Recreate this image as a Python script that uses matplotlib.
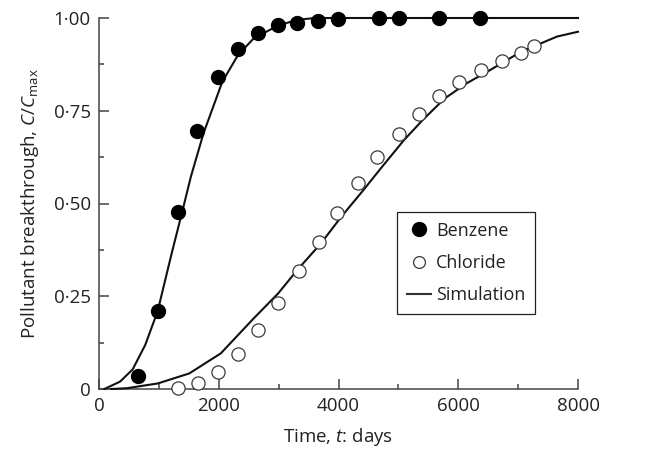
import matplotlib
matplotlib.use("Agg")
import matplotlib.pyplot as plt
from matplotlib.lines import Line2D
from matplotlib.ticker import FixedLocator, MultipleLocator

plt.rcParams['font.family'] = ['Open Sans', 'DejaVu Sans']
plt.rcParams['mathtext.fontset'] = 'custom'
plt.rcParams['mathtext.rm'] = 'Open Sans'
plt.rcParams['mathtext.it'] = 'Open Sans:italic'

# Measured data
benzene_t = [646, 980, 1314, 1642, 1982, 2316, 2661, 2995, 3312, 3663, 3986, 4670, 5016, 5683, 6363]
benzene_c = [0.035, 0.21, 0.476, 0.696, 0.84, 0.916, 0.96, 0.981, 0.987, 0.992, 0.997, 1.0, 1.0, 1.0, 1.0]

chloride_t = [1314, 1659, 1993, 2316, 2661, 2995, 3346, 3679, 3975, 4331,
              4648, 5016, 5344, 5678, 6012, 6375, 6725, 7048, 7270]
chloride_c = [0.002, 0.017, 0.047, 0.094, 0.159, 0.231, 0.319, 0.397, 0.475, 0.554,
              0.626, 0.687, 0.740, 0.790, 0.828, 0.860, 0.884, 0.907, 0.925]

# Simulated curves
sim_benzene_t = [90, 353, 563, 773, 980, 1213, 1387, 1534, 1745, 2059, 2321, 2583, 3006, 3320, 3600, 8000]
sim_benzene_c = [0.0, 0.02, 0.053, 0.119, 0.21, 0.365, 0.476, 0.572, 0.689, 0.828, 0.900, 0.945, 0.981, 0.995, 1.0, 1.0]

sim_chloride_t = [200, 460, 983, 1508, 2034, 2570, 2994, 3318, 3709, 4050, 4415, 4728,
                  5094, 5406, 5773, 6140, 6504, 7048, 7650, 8000]
sim_chloride_c = [0.0, 0.002, 0.015, 0.042, 0.096, 0.188, 0.258, 0.322, 0.393, 0.465, 0.536, 0.599,
                  0.671, 0.725, 0.783, 0.824, 0.857, 0.909, 0.950, 0.963]

x_ticks = [0, 2000, 4000, 6000, 8000]
x_tick_labels = ['0', '2000', '4000', '6000', '8000']
y_ticks = [0, 0.25, 0.5, 0.75, 1.0]
y_tick_labels = ['0', '0·25', '0·50', '0·75', '1·00']

fig = plt.figure(figsize=(6.45, 4.49), dpi=100)
ax = fig.add_axes([99/645, 60/449, 479/645, 371/449])

lw = 1.5
ax.plot(sim_benzene_t, sim_benzene_c, color='#111111', lw=lw, clip_on=False, zorder=3,
        solid_joinstyle='round')
ax.plot(sim_chloride_t, sim_chloride_c, color='#111111', lw=lw, clip_on=False, zorder=3,
        solid_joinstyle='round')
ax.plot(benzene_t, benzene_c, 'o', ms=10, mfc='black', mec='black', clip_on=False, zorder=4)
ax.plot(chloride_t, chloride_c, 'o', ms=9.5, mfc='white', mec='#3a3a3a', mew=0.9, clip_on=False, zorder=4)

ax.set_xlim(0, 8000)
ax.set_ylim(0, 1.0)
ax.xaxis.set_major_locator(FixedLocator(x_ticks))
ax.set_xticklabels(x_tick_labels)
ax.xaxis.set_minor_locator(MultipleLocator(1000))
ax.yaxis.set_major_locator(FixedLocator(y_ticks))
ax.set_yticklabels(y_tick_labels)
ax.yaxis.set_minor_locator(MultipleLocator(0.125))

for s in ['top', 'right']:
    ax.spines[s].set_visible(False)
for s in ['left', 'bottom']:
    ax.spines[s].set_color('#444444')
    ax.spines[s].set_linewidth(1.1)

ax.tick_params(which='major', direction='in', length=7, width=1.1, color='#444444',
               labelsize=13.5, labelcolor='#222222', pad=6)
ax.tick_params(which='minor', direction='in', length=3.5, width=1.1, color='#444444')

ax.set_xlabel('Time, $t$: days', fontsize=13.5, color='#222222', labelpad=8)
ax.set_ylabel('Pollutant breakthrough, $C$/$C_{\\mathrm{max}}$', fontsize=13.5,
              color='#222222', labelpad=9)

handles = [
    Line2D([], [], ls='none', marker='o', ms=10, mfc='black', mec='black'),
    Line2D([], [], ls='none', marker='o', ms=8.5, mfc='white', mec='#3a3a3a', mew=0.9),
    Line2D([], [], color='#333333', lw=1.5),
]
leg = ax.legend(handles, ['Benzene', 'Chloride', 'Simulation'], loc='upper left',
                bbox_to_anchor=(0.622, 0.478), borderaxespad=0, fontsize=13,
                frameon=True, fancybox=False, framealpha=1, edgecolor='#222222',
                handlelength=1.33, handletextpad=0.28, labelspacing=0.8,
                borderpad=0.55)
leg.get_frame().set_linewidth(0.9)
for t in leg.get_texts():
    t.set_color('#222222')

fig.savefig('out.png', dpi=100)
